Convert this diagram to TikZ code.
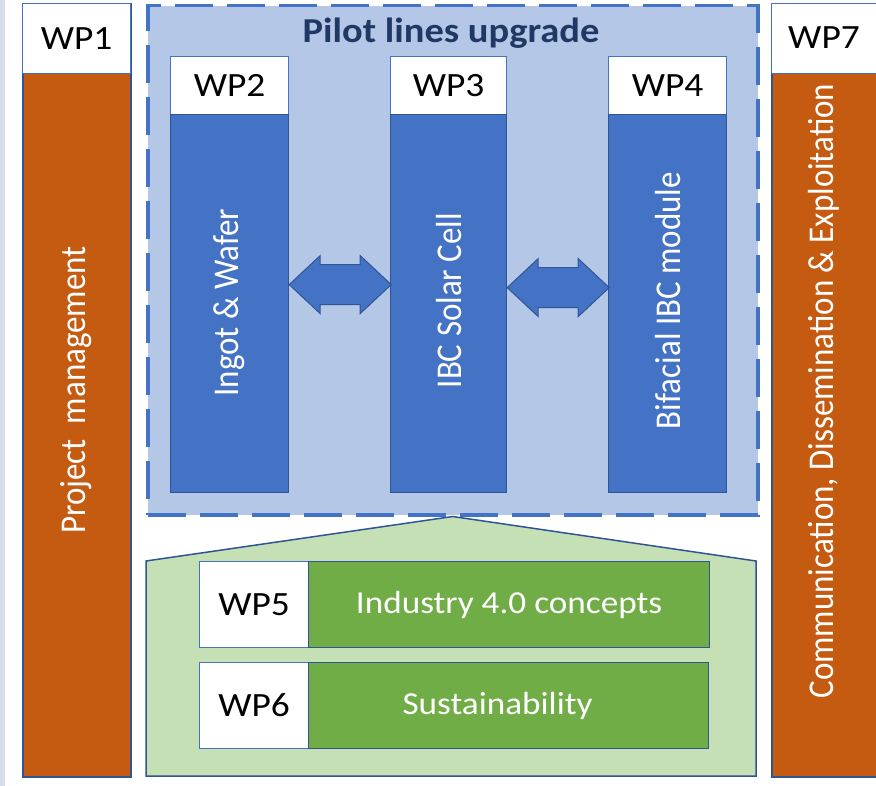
\documentclass[tikz,border=0pt]{standalone}
\usepackage{fontspec}
\usepackage{graphicx}
\setmainfont{Carlito}
\usetikzlibrary{calc}
\definecolor{orangewp}{HTML}{C55A11}
\definecolor{bluewp}{HTML}{4472C4}
\definecolor{lightblue}{HTML}{B4C7E7}
\definecolor{greenwp}{HTML}{70AD47}
\definecolor{lightgreen}{HTML}{C5E0B4}
\definecolor{edgeblue}{HTML}{2F5597}
\definecolor{titleblue}{HTML}{203864}
\definecolor{sidestrip}{HTML}{D6DCEB}
% slightly widened lettering, horizontal and rotated
\newcommand\widetext[1]{\scalebox{1.1}[1]{#1}}
\newcommand\widerot[1]{\scalebox{1}[1.1]{#1}}
\tikzset{
  wpfont/.style={font=\fontsize{34}{40}\selectfont},
  txtfont/.style={font=\fontsize{32}{38}\selectfont},
  rotfont/.style={font=\fontsize{33}{38}\selectfont},
  header/.style={draw=bluewp, line width=1.2pt, fill=white, text=black, wpfont, inner sep=0pt},
  sidecol/.style={draw=edgeblue, line width=1.6pt, fill=orangewp, text=white, inner sep=0pt},
  stagecol/.style={draw=edgeblue, line width=1.2pt, fill=bluewp, text=white, inner sep=0pt},
  greenbar/.style={draw=edgeblue, line width=1.2pt, fill=greenwp, text=white, txtfont, inner sep=0pt},
  vlabel/.style={rotate=90, text=white, rotfont, inner sep=0pt},
  arrowfill/.style={draw=edgeblue, line width=1pt, fill=bluewp},
  box/.style args={#1x#2}{minimum width=#1pt, minimum height=#2pt},
}
\begin{document}
\begin{tikzpicture}[x=1pt, y=-1pt]
\useasboundingbox (0,0) rectangle (876,786);
\clip (0,0) rectangle (876,786);
\fill[sidestrip] (0,0) rectangle (5,786);

% Pilot lines frame
\node[draw=bluewp, line width=3.5pt, dash pattern=on 38pt off 14pt, fill=lightblue,
      box=610x509, anchor=north west, inner sep=0pt] (pilot) at (146,4) {};
\node[text=titleblue, font=\bfseries\fontsize{35}{40}\selectfont] (title) at (451,33) {\widetext{Pilot lines upgrade}};

% WP1: project management
\node[sidecol, box=108x773, anchor=north west] (c1) at (22,3) {};
\node[vlabel] (t1) at (76,390) {\widerot{Project\ \ management}};
\node[header, box=108x70, anchor=north west] (h1) at (22,3) {\widetext{WP1}};

% WP7: communication
\node[sidecol, box=112x773, anchor=north west] (c7) at (771,3) {};
\node[vlabel] (t7) at (824,391) {\widerot{Communication, Dissemination \& Exploitation}};
\node[header, box=112x70, anchor=north west] (h7) at (771,3) {};
\node[wpfont] (h7t) at (824,38) {\widetext{WP7}};

% WP2-WP4 stages
\node[header, box=118x58, anchor=north west] (h2) at (170,56) {\widetext{WP2}};
\node[stagecol, box=118x378, anchor=north west] (c2) at (170,114) {};
\node[vlabel] at ($(c2.center)+(0,-1)$) {\widerot{Ingot \& Wafer}};

\node[header, box=116x58, anchor=north west] (h3) at (390,56) {\widetext{WP3}};
\node[stagecol, box=116x378, anchor=north west] (c3) at (390,114) {};
\node[vlabel] at ($(c3.center)+(0,-3)$) {\widerot{IBC Solar Cell}};

\node[header, box=118x58, anchor=north west] (h4) at (608,56) {\widetext{WP4}};
\node[stagecol, box=118x378, anchor=north west] (c4) at (608,114) {};
\node[vlabel] at ($(c4.center)+(0,-3)$) {\widerot{Bifacial IBC module}};

% double arrows between the stages
\begin{scope}[shift={($(c2.east)+(0,-19)$)}]
  \draw[arrowfill] (0,0) -- (31,-29) -- (31,-20) -- (71,-20) -- (71,-29) -- (102,0)
    -- (71,29) -- (71,20) -- (31,20) -- (31,29) -- cycle;
\end{scope}
\begin{scope}[shift={($(c3.east)+(0,-16)$)}]
  \draw[arrowfill] (0,0) -- (31,-29) -- (31,-20) -- (71,-20) -- (71,-29) -- (102,0)
    -- (71,29) -- (71,20) -- (31,20) -- (31,29) -- cycle;
\end{scope}

% supporting work packages
\draw[draw=edgeblue, line width=1.5pt, fill=lightgreen]
  (146,776) -- (146,561) -- (pilot.south) -- (756,561) -- (756,776) -- cycle;

\node[header, box=109x86, anchor=north west] (h5) at (199,561) {\widetext{WP5}};
\node[greenbar, box=401x86, anchor=north west] (g5) at (308,561) {\widetext{Industry 4.0 concepts}};
\node[header, box=109x86, anchor=north west] (h6) at (199,662) {\widetext{WP6}};
\node[greenbar, box=400x86, anchor=north west] (g6) at (308,662) {};
\node[text=white, txtfont] at ($(g6.center)+(-11,0)$) {\widetext{Sustainability}};
\end{tikzpicture}
\end{document}
